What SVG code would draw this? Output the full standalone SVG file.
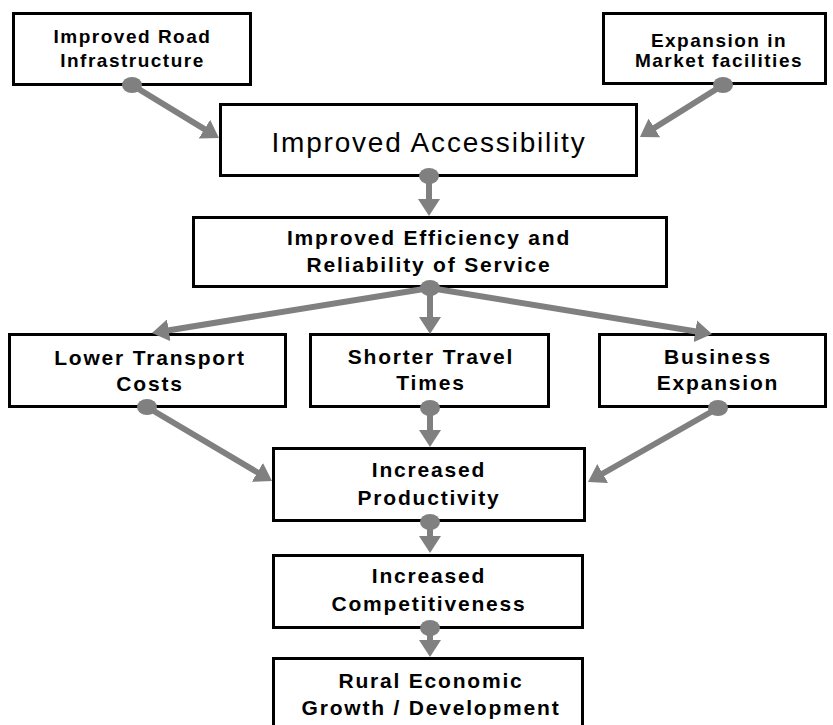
<svg xmlns="http://www.w3.org/2000/svg" width="833" height="725" viewBox="0 0 833 725">
  <style>
    .box { fill: #ffffff; stroke: #000000; stroke-width: 3; }
    .t { font-family: "Liberation Sans", Arial, sans-serif; font-weight: bold; font-size: 21px; letter-spacing: 1.8px; text-anchor: middle; fill: #000000; }
    .ts { font-size: 19px; letter-spacing: 1.5px; }
    .tl { font-weight: normal; font-size: 28px; letter-spacing: 1.8px; }
    .link { stroke: #808080; stroke-width: 6; fill: none; marker-end: url(#arrow); }
    .dot { fill: #808080; }
  </style>
  <defs>
    <marker id="arrow" markerUnits="userSpaceOnUse" markerWidth="18" markerHeight="22" refX="12" refY="11" orient="auto" viewBox="0 0 18 22">
      <path d="M0,0 L17,11 L0,22 Z" fill="#808080"/>
    </marker>
  </defs>

  <rect width="833" height="725" fill="#ffffff"/>

  <g id="node-road">
    <rect class="box" x="13.5" y="13.5" width="237" height="71"/>
    <text class="t ts" x="132.5" y="43">Improved Road</text>
    <text class="t ts" x="132.5" y="67">Infrastructure</text>
  </g>
  <g id="node-market">
    <rect class="box" x="603.5" y="13.5" width="222" height="70"/>
    <text class="t ts" x="719" y="47">Expansion in</text>
    <text class="t ts" x="719" y="67">Market facilities</text>
  </g>
  <g id="node-accessibility">
    <rect class="box" x="220.5" y="104.5" width="416" height="71"/>
    <text class="t tl" x="429" y="152">Improved Accessibility</text>
  </g>
  <g id="node-efficiency">
    <rect class="box" x="193.5" y="217.5" width="473" height="69"/>
    <text class="t" x="429" y="245">Improved Efficiency and</text>
    <text class="t" x="429" y="272">Reliability of Service</text>
  </g>
  <g id="node-costs">
    <rect class="box" x="9.5" y="334.5" width="276" height="72"/>
    <text class="t" x="150" y="365">Lower Transport</text>
    <text class="t" x="150" y="391">Costs</text>
  </g>
  <g id="node-times">
    <rect class="box" x="310.5" y="334.5" width="238" height="72"/>
    <text class="t" x="431" y="364">Shorter Travel</text>
    <text class="t" x="431" y="390">Times</text>
  </g>
  <g id="node-business">
    <rect class="box" x="599.5" y="334.5" width="226" height="72"/>
    <text class="t" x="718" y="364">Business</text>
    <text class="t" x="718" y="390">Expansion</text>
  </g>
  <g id="node-productivity">
    <rect class="box" x="273.5" y="448.5" width="311" height="72"/>
    <text class="t" x="429" y="477">Increased</text>
    <text class="t" x="429" y="505">Productivity</text>
  </g>
  <g id="node-competitiveness">
    <rect class="box" x="273.5" y="555.5" width="309" height="72"/>
    <text class="t" x="429" y="583">Increased</text>
    <text class="t" x="429" y="611">Competitiveness</text>
  </g>
  <g id="node-rural">
    <rect class="box" x="273.5" y="658.5" width="309" height="72"/>
    <text class="t" x="431" y="688">Rural Economic</text>
    <text class="t" x="431" y="715">Growth / Development</text>
  </g>

  <g id="connectors">
    <line class="link" x1="132" y1="85" x2="214.7" y2="135.4"/>
    <ellipse class="dot" cx="132" cy="85" rx="10" ry="8"/>

    <line class="link" x1="723" y1="85" x2="644.2" y2="134.3"/>
    <ellipse class="dot" cx="723" cy="85" rx="10" ry="8"/>

    <line class="link" x1="429" y1="176" x2="429" y2="211"/>
    <ellipse class="dot" cx="429" cy="176" rx="10" ry="8"/>

    <line class="link" x1="430" y1="288" x2="156.9" y2="332.2"/>
    <line class="link" x1="430" y1="288" x2="430" y2="329"/>
    <line class="link" x1="430" y1="288" x2="707.1" y2="333.2"/>
    <ellipse class="dot" cx="430" cy="288" rx="10" ry="8"/>

    <line class="link" x1="147" y1="407" x2="267.7" y2="478.5"/>
    <ellipse class="dot" cx="147" cy="407" rx="10" ry="8"/>

    <line class="link" x1="430" y1="408" x2="430" y2="442"/>
    <ellipse class="dot" cx="430" cy="408" rx="10" ry="8"/>

    <line class="link" x1="718" y1="408" x2="592.3" y2="479.5"/>
    <ellipse class="dot" cx="718" cy="408" rx="10" ry="8"/>

    <line class="link" x1="430" y1="522" x2="430" y2="548"/>
    <ellipse class="dot" cx="430" cy="522" rx="10" ry="8"/>

    <line class="link" x1="430" y1="628" x2="430" y2="652"/>
    <ellipse class="dot" cx="430" cy="628" rx="10" ry="8"/>
  </g>
</svg>
